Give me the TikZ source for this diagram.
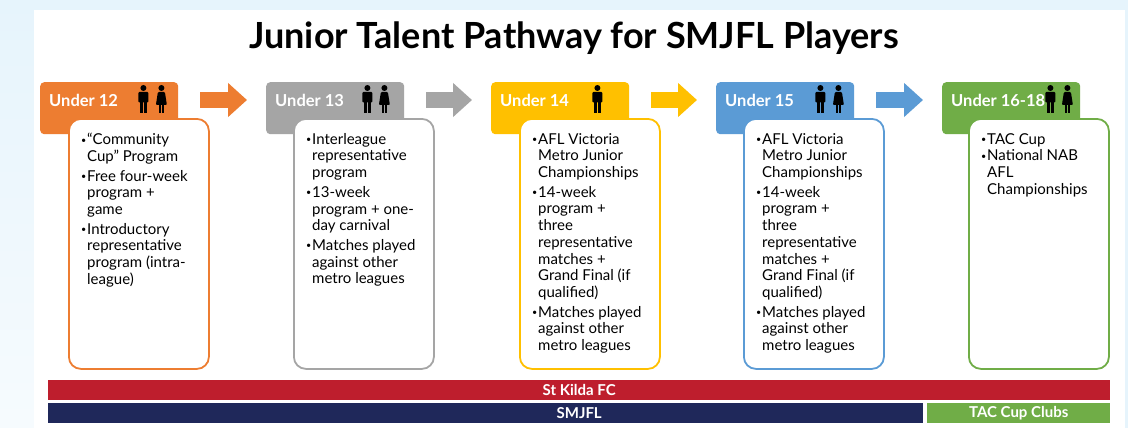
\documentclass[tikz,border=0pt]{standalone}
\usepackage{fontspec}
\setmainfont{Lato}
\usepackage{tikz}
\usetikzlibrary{calc, arrows.meta, positioning}

\definecolor{bgblue}{HTML}{E6F4FC}
\definecolor{u12col}{HTML}{ED7D31}
\definecolor{u13col}{HTML}{A5A5A5}
\definecolor{u14col}{HTML}{FFC000}
\definecolor{u15col}{HTML}{5B9BD5}
\definecolor{u16col}{HTML}{70AD47}
\definecolor{stkred}{HTML}{BE1E2D}
\definecolor{smjflnavy}{HTML}{1F285A}

\newcommand{\bul}{\makebox[6pt][l]{\raisebox{1.5pt}{\fontsize{9}{9}\selectfont\textbullet}}}
\newcommand{\ind}{\hspace*{6pt}}

\tikzset{
	boy/.pic = {
		\fill (0,3) circle [radius = 3pt];
		\fill [rounded corners = 1pt] (-5,7) rectangle (5,17.5);
		\fill (-3.3,17) rectangle (-0.4,28);
		\fill (0.4,17) rectangle (3.3,28);
	},
	girl/.pic = {
		\fill (0,3) circle [radius = 3pt];
		\fill [rounded corners = 1pt] (-3.5,7) -- (3.5,7) -- (5.5,20) -- (-5.5,20) -- cycle;
		\fill (-2.6,19) rectangle (-0.5,28);
		\fill (0.5,19) rectangle (2.6,28);
	}
}

\begin{document}
\begin{tikzpicture}[x = 1pt, y = -1pt,
		tab/.style = {rounded corners = 4pt, minimum width = 138pt, minimum height = 52pt, inner sep = 0pt, anchor = north west},
		tablabel/.style = {text = white, font = \fontsize{16.5}{16.5}\selectfont\bfseries, inner sep = 0pt, anchor = west},
		stagebox/.style = {fill = white, line width = 1.8pt, rounded corners = 12pt, minimum width = 140pt, minimum height = 250pt, inner sep = 0pt, anchor = north west},
		stagetext/.style = {align = left, text = black, font = \fontsize{15}{16.7}\selectfont, inner sep = 0pt, anchor = north west},
		stagearrow/.style = {line width = 16pt, -{Triangle[length = 19pt, width = 33pt]}},
		bar/.style = {minimum height = 20pt, inner sep = 0pt, anchor = north west, text = white, font = \fontsize{15}{15}\selectfont\bfseries}
	]
		\useasboundingbox (0,0) rectangle (1128,428);
		
		% background
		\fill [bgblue] (0,0) rectangle (1128,428);
		\shade [top color = bgblue, bottom color = bgblue!35] (0,0) rectangle (34,428);
		\fill [white] (34,10) rectangle (1125,428);
		
		\node [font = \fontsize{36}{36}\selectfont\bfseries] (title) at (574,38) {Junior Talent Pathway for SMJFL Players};
		
		% age tabs
		\node [tab, fill = u12col] (u12) at (40,82) {};
		\node [tab, fill = u13col] (u13) at (266,82) {};
		\node [tab, fill = u14col] (u14) at (491,82) {};
		\node [tab, fill = u15col] (u15) at (716,82) {};
		\node [tab, fill = u16col] (u16) at (942,82) {};
		
		\node [tablabel] (u12 label) at ($ (u12.north west) + (9,18) $) {Under 12};
		\node [tablabel] (u13 label) at ($ (u13.north west) + (9,18) $) {Under 13};
		\node [tablabel] (u14 label) at ($ (u14.north west) + (9,18) $) {Under 14};
		\node [tablabel] (u15 label) at ($ (u15.north west) + (9,18) $) {Under 15};
		\node [tablabel] (u16 label) at ($ (u16.north west) + (9,18) $) {Under 16-18};
		
		\pic at ($ (u12.north east) + (-35,3) $) {boy};
		\pic at ($ (u12.north east) + (-17,3) $) {girl};
		\pic at ($ (u13.north east) + (-37,3) $) {boy};
		\pic at ($ (u13.north east) + (-20,3) $) {girl};
		\pic at ($ (u14.north east) + (-32,3) $) {boy};
		\pic at ($ (u15.north east) + (-34,3) $) {boy};
		\pic at ($ (u15.north east) + (-16,3) $) {girl};
		\pic at ($ (u16.north east) + (-30,3) $) {boy};
		\pic at ($ (u16.north east) + (-13,3) $) {girl};
		
		% arrows between tabs
		\draw [stagearrow, u12col] ($ (u12.north east) + (22,18) $) -- ($ (u13.north west) + (-19,18) $);
		\draw [stagearrow, u13col] ($ (u13.north east) + (22,18) $) -- ($ (u14.north west) + (-19,18) $);
		\draw [stagearrow, u14col] ($ (u14.north east) + (22,18) $) -- ($ (u15.north west) + (-19,18) $);
		\draw [stagearrow, u15col] ($ (u15.north east) + (22,18) $) -- ($ (u16.north west) + (-19,18) $);
		
		% program boxes
		\node [stagebox, draw = u12col] (u12 box) at ($ (u12.north west) + (28,36) $) {};
		\node [stagebox, draw = u13col] (u13 box) at ($ (u13.north west) + (27,36) $) {};
		\node [stagebox, draw = u14col] (u14 box) at ($ (u14.north west) + (28,36) $) {};
		\node [stagebox, draw = u15col] (u15 box) at ($ (u15.north west) + (27,36) $) {};
		\node [stagebox, draw = u16col] (u16 box) at ($ (u16.north west) + (26,36) $) {};
		
		\node [stagetext] (u12 text) at ($ (u12 box.north west) + (13,15) $) {\bul“Community\\ \ind Cup” Program\\[3pt] \bul Free four-week\\ \ind program +\\ \ind game\\[3pt] \bul Introductory\\ \ind representative\\ \ind program (intra-\\ \ind league)};
		\node [stagetext] (u13 text) at ($ (u13 box.north west) + (13,15) $) {\bul Interleague\\ \ind representative\\ \ind program\\[3pt] \bul 13-week\\ \ind program + one-\\ \ind day carnival\\[3pt] \bul Matches played\\ \ind against other\\ \ind metro leagues};
		\node [stagetext] (u14 text) at ($ (u14 box.north west) + (13,15) $) {\bul AFL Victoria\\ \ind Metro Junior\\ \ind Championships\\[3pt] \bul 14-week\\ \ind program +\\ \ind three\\ \ind representative\\ \ind matches +\\ \ind Grand Final (if\\ \ind qualified)\\[3pt] \bul Matches played\\ \ind against other\\ \ind metro leagues};
		\node [stagetext] (u15 text) at ($ (u15 box.north west) + (13,15) $) {\bul AFL Victoria\\ \ind Metro Junior\\ \ind Championships\\[3pt] \bul 14-week\\ \ind program +\\ \ind three\\ \ind representative\\ \ind matches +\\ \ind Grand Final (if\\ \ind qualified)\\[3pt] \bul Matches played\\ \ind against other\\ \ind metro leagues};
		\node [stagetext] (u16 text) at ($ (u16 box.north west) + (13,15) $) {\bul TAC Cup\\ \bul National NAB\\ \ind AFL\\ \ind Championships};
		
		% club bars
		\node [bar, fill = stkred, minimum width = 1062pt] (stkilda) at (48,380) {St Kilda FC};
		\node [bar, fill = smjflnavy, minimum width = 875pt] (smjfl) at (48,403) {};
		\node [text = white, font = \fontsize{15}{15}\selectfont\bfseries, inner sep = 0pt] (smjfl label) at (stkilda |- smjfl) {SMJFL};
		\node [bar, fill = u16col, minimum width = 183pt] (tac) at (927,403) {TAC Cup Clubs};
	\end{tikzpicture}
\end{document}
